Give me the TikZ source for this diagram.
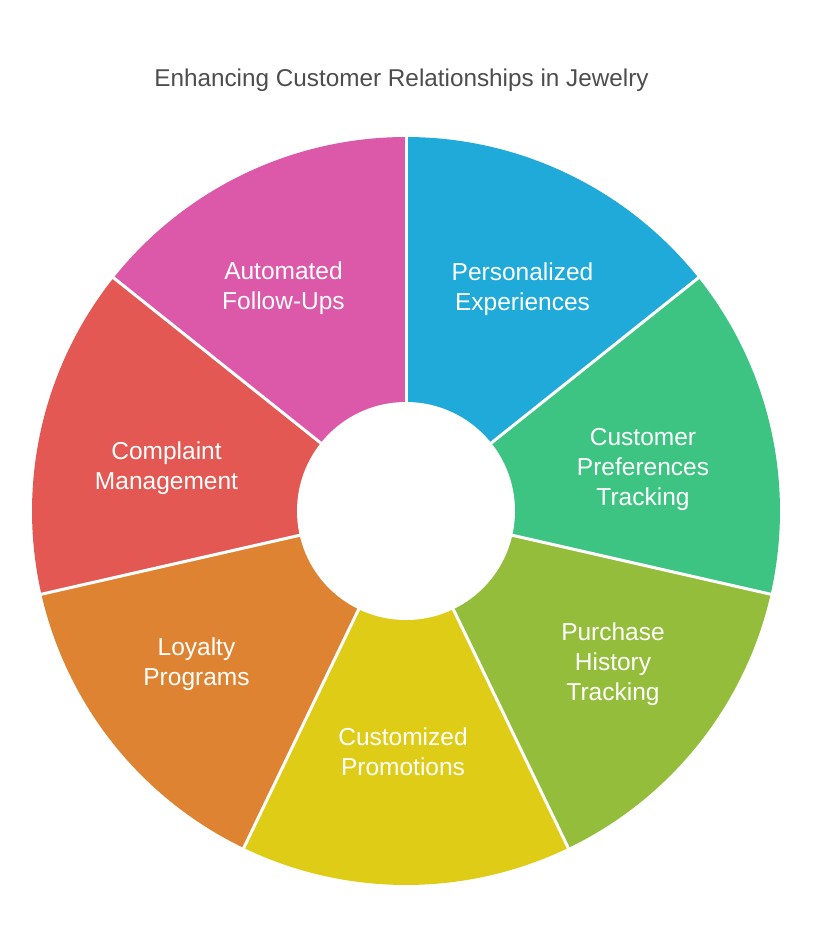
\documentclass[tikz,border=0pt]{standalone}
\usepackage{fontspec}
\setmainfont{Liberation Sans}
\definecolor{cblue}{RGB}{31,170,217}
\definecolor{cgreen}{RGB}{61,196,130}
\definecolor{colive}{RGB}{147,189,58}
\definecolor{cyellow}{RGB}{223,204,23}
\definecolor{corange}{RGB}{222,131,49}
\definecolor{cred}{RGB}{227,88,82}
\definecolor{cpink}{RGB}{220,88,168}
\definecolor{ctitle}{RGB}{77,77,77}
\begin{document}
\begin{tikzpicture}[x=1pt,y=1pt,
  lbl/.style={anchor=base, text=white, inner sep=0pt, font=\fontsize{24.5}{30}\selectfont},
  ttl/.style={anchor=base, text=ctitle, inner sep=0pt, font=\fontsize{24.3}{30}\selectfont},
  sep/.style={draw=white, line width=3pt}]
\useasboundingbox (0,0) rectangle (813,-948);
\fill[white] (0,0) rectangle (813,-948);
\node[ttl] (title) at (401.5,-86) {Enhancing Customer Relationships in Jewelry};
\begin{scope}[shift={(406,-511)}]
  \coordinate (c) at (0,0);
  \fill[cblue]   (c) -- (90:374) arc[start angle=90, end angle=38.571, radius=374] -- cycle;
  \fill[cgreen]  (c) -- (38.571:374) arc[start angle=38.571, end angle=-12.857, radius=374] -- cycle;
  \fill[colive]  (c) -- (-12.857:374) arc[start angle=-12.857, end angle=-64.286, radius=374] -- cycle;
  \fill[cyellow] (c) -- (-64.286:374) arc[start angle=-64.286, end angle=-115.714, radius=374] -- cycle;
  \fill[corange] (c) -- (-115.714:374) arc[start angle=-115.714, end angle=-167.143, radius=374] -- cycle;
  \fill[cred]    (c) -- (-167.143:374) arc[start angle=-167.143, end angle=-218.571, radius=374] -- cycle;
  \fill[cpink]   (c) -- (-218.571:374) arc[start angle=-218.571, end angle=-270, radius=374] -- cycle;
  \foreach \a [count=\i] in {90,38.571,-12.857,-64.286,-115.714,-167.143,-218.571}
    \coordinate (e\i) at (\a:377);
  \foreach \i in {1,...,7}
    \draw[sep] (c) -- (e\i);
  \node[circle, fill=white, minimum size=218pt, inner sep=0pt] (hole) at (c) {};
\end{scope}
\node[lbl] (p1) at (522.5,-280.5) {Personalized};
\node[lbl] (p2) at (522.5,-310.5) {Experiences};
\node[lbl] (g1) at (643,-445) {Customer};
\node[lbl] (g2) at (643,-475) {Preferences};
\node[lbl] (g3) at (643,-505) {Tracking};
\node[lbl] (o1) at (613,-640) {Purchase};
\node[lbl] (o2) at (613,-670) {History};
\node[lbl] (o3) at (613,-700) {Tracking};
\node[lbl] (y1) at (403,-745) {Customized};
\node[lbl] (y2) at (403,-775) {Promotions};
\node[lbl] (r1) at (196.5,-655) {Loyalty};
\node[lbl] (r2) at (196.5,-685) {Programs};
\node[lbl] (m1) at (166.5,-459.5) {Complaint};
\node[lbl] (m2) at (166.5,-489.5) {Management};
\node[lbl] (k1) at (283.5,-279.5) {Automated};
\node[lbl] (k2) at (283.5,-309.5) {Follow-Ups};
\end{tikzpicture}
\end{document}
